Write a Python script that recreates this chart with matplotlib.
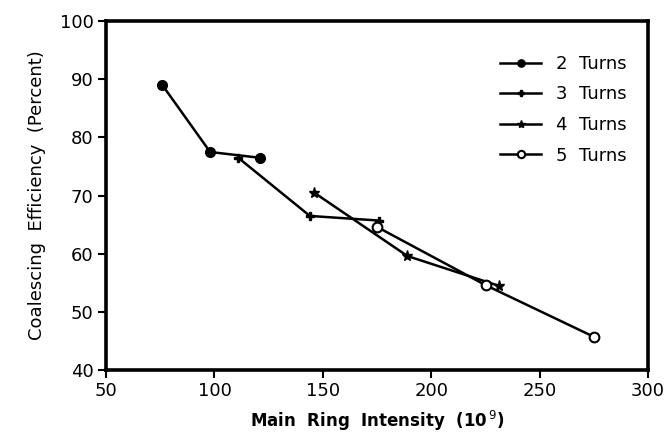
import matplotlib
matplotlib.use('Agg')
import matplotlib.pyplot as plt

# main ring intensity (10^9) vs coalescing efficiency (percent)
x_2turns = [76, 98, 121]
y_2turns = [89, 77.5, 76.5]
x_3turns = [111, 144, 176]
y_3turns = [76.5, 66.5, 65.7]
x_4turns = [146, 189, 231]
y_4turns = [70.5, 59.6, 54.5]
x_5turns = [175, 225, 275]
y_5turns = [64.6, 54.6, 45.7]

plt.rcParams['font.family'] = ['DejaVu Sans']

fig = plt.figure(figsize=(6.71, 4.41), dpi=100)
ax = fig.add_axes([0.158, 0.161, 0.808, 0.791])

ax.plot(x_2turns, y_2turns, color='black', lw=1.8, marker='o', ms=7, label='2  Turns')
ax.plot(x_3turns, y_3turns, color='black', lw=1.8, marker='P', ms=6, label='3  Turns')
ax.plot(x_4turns, y_4turns, color='black', lw=1.8, marker='*', ms=8, label='4  Turns')
ax.plot(x_5turns, y_5turns, color='black', lw=1.8, marker='o', ms=7, mfc='white', mew=1.5, label='5  Turns')

ax.set_xlim(50, 300)
ax.set_ylim(40, 100)
ax.set_xticks([50, 100, 150, 200, 250, 300])
ax.set_yticks([40, 50, 60, 70, 80, 90, 100])
ax.tick_params(direction='out', length=6, width=1.5, labelsize=13, pad=3)

for s in ax.spines.values():
    s.set_linewidth(2.6)

ax.set_xlabel('Main  Ring  Intensity  (10$^{\\,9}$)', fontsize=12, fontweight='bold', labelpad=6)
ax.set_ylabel('Coalescing  Efficiency  (Percent)', fontsize=13, labelpad=10)

leg = ax.legend(loc='upper right', bbox_to_anchor=(0.99, 0.95), frameon=False, fontsize=13,
                handlelength=2.3, labelspacing=0.7, markerscale=0.75)

plt.savefig('out.png', dpi=100)
